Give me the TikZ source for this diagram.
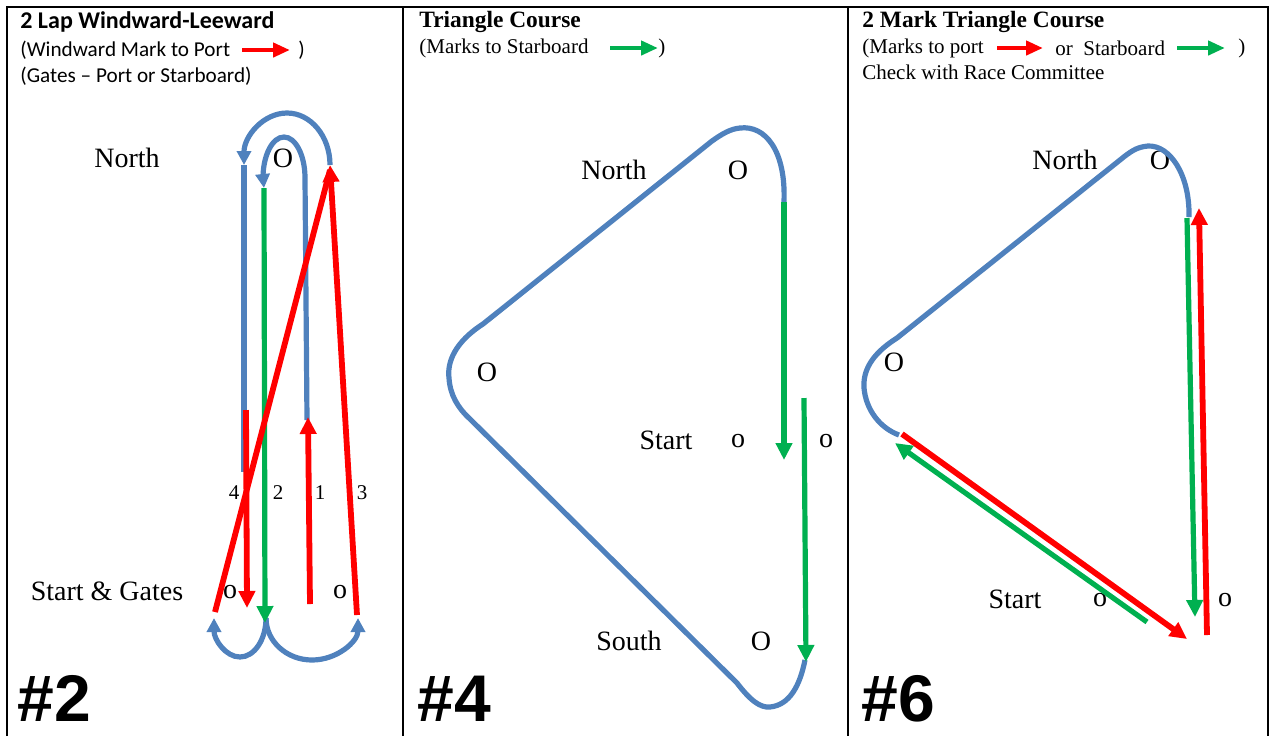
\documentclass[tikz,border=0pt]{standalone}
\usepackage{fontspec}
\setmainfont{Liberation Serif}
\newfontfamily\calfont{Carlito}
\newfontfamily\numfont{Liberation Sans}
\usetikzlibrary{arrows.meta}
\definecolor{courseblue}{HTML}{4F81BD}
\definecolor{portred}{HTML}{FF0000}
\definecolor{stbdgreen}{HTML}{00B050}
\tikzset{
  blueline/.style={draw=courseblue, line width=2.6pt},
  redline/.style={draw=portred, line width=2.9pt},
  greenline/.style={draw=stbdgreen, line width=2.6pt},
  bluetip/.style={-{Triangle[length=7pt,width=7pt]}},
  coursetip/.style={-{Triangle[length=8.5pt,width=8pt]}},
  keytip/.style={-{Triangle[length=8.5pt,width=7pt]}, line width=2.2pt},
  lbl/.style={font=\fontsize{14}{16}\selectfont, inner sep=0pt},
  legnum/.style={font=\fontsize{10.5}{12}\selectfont, inner sep=0pt},
  head/.style={anchor=west, inner sep=0pt, font=\fontsize{11.7}{14}\selectfont\bfseries},
  sub/.style={anchor=west, inner sep=0pt, font=\fontsize{10.5}{12}\selectfont},
  calsub/.style={sub, font=\calfont\fontsize{10.6}{12}\selectfont},
  bignum/.style={anchor=base west, inner sep=0pt, font=\numfont\fontsize{33}{36}\selectfont\bfseries}
}
\begin{document}
\begin{tikzpicture}[x=0.5pt, y=-0.5pt]
\useasboundingbox (0,0) rectangle (1270,736);
% frame
\draw[line width=1.2pt] (7,736) -- (7,7) -- (1268,7) -- (1268,736);
\draw[line width=1.2pt] (403,7) -- (403,736);
\draw[line width=1.2pt] (848,7) -- (848,736);

% ---- #2 windward-leeward
\node[head, font=\calfont\fontsize{12}{14}\selectfont\bfseries] (head2) at (20,22) {2 Lap Windward-Leeward};
\node[calsub] (sub2a) at (20,50) {(Windward Mark to Port};
\draw[portred, keytip] (242,50) -- (290,50);
\node[calsub] (sub2b) at (298,50) {)};
\node[calsub] (sub2c) at (20,76) {(Gates – Port or Starboard)};
\node[lbl] (north2) at (127,158) {North};
\node[lbl] (mark2) at (283,158) {O};
\node[lbl] (start2) at (107,591) {Start \& Gates};
\node[lbl] (gateL) at (230,592) {o};
\node[lbl] (gateR) at (340,592) {o};
\foreach \x/\n in {234/4, 278/2, 320/1, 362/3}
  \node[legnum] (leg\n) at (\x,493) {\n};
% blue loops
\draw[blueline, bluetip] (330,165) arc[start angle=0, end angle=-180, x radius=43, y radius=52];
\draw[blueline] (244,165) -- (244,472);
\draw[blueline, bluetip] (307,420) -- (305,178) arc[start angle=0, end angle=-180, x radius=21, y radius=41] -- (264,188);
\draw[blueline, bluetip] (266,618) arc[start angle=0, end angle=180, x radius=26, y radius=39];
\draw[blueline, bluetip] (266,618) arc[start angle=180, end angle=0, x radius=46, y radius=42];
% legs
\draw[greenline, coursetip] (264,188) -- (265,623);
\draw[redline, coursetip] (310,604) -- (308,417);
\draw[redline, coursetip] (357,615) -- (330,165);
\draw[redline] (215,612) -- (330,170);
\draw[redline, coursetip] (246,410) -- (247,608);
\node[bignum] (num2) at (17,721) {\#2};

% ---- #4 triangle
\node[head] (head4) at (419,22) {Triangle Course};
\node[sub] (sub4a) at (419,48) {(Marks to Starboard};
\draw[stbdgreen, keytip] (610,48) -- (658,48);
\node[sub] (sub4b) at (658,48) {)};
\node[lbl] (north4) at (614,170) {North};
\node[lbl] (markN4) at (738,170) {O};
\node[lbl] (markW4) at (487,372) {O};
\node[lbl] (start4) at (666,440) {Start};
\node[lbl] (pin4) at (738,441) {o};
\node[lbl] (boat4) at (826,441) {o};
\node[lbl] (south4) at (629,641) {South};
\node[lbl] (markS4) at (761,641) {O};
\draw[blueline] (784,202) .. controls (786,150) and (765,125) .. (740,128)
  .. controls (730,129) and (722,134) .. (712,141) -- (483,324)
  .. controls (455,342) and (447,362) .. (449,378)
  .. controls (450,395) and (458,408) .. (470,419) -- (737,683)
  .. controls (750,700) and (760,708) .. (770,707)
  .. controls (790,705) and (800,685) .. (805,660);
\draw[greenline, coursetip] (784,202) -- (784,460);
\draw[greenline, coursetip] (804,398) -- (806,662);
\node[bignum] (num4) at (417,721) {\#4};

% ---- #6 two mark triangle
\node[head] (head6) at (862,22) {2 Mark Triangle Course};
\node[sub] (sub6a) at (862,48) {(Marks to port};
\draw[portred, keytip] (997,48) -- (1043,48);
\node[sub] (sub6b) at (1055,48) {or\ \ Starboard};
\draw[stbdgreen, keytip] (1177,48) -- (1225,48);
\node[sub] (sub6c) at (1238,48) {)};
\node[sub] (sub6d) at (862,72) {Check with Race Committee};
\node[lbl] (north6) at (1065,160) {North};
\node[lbl] (markN6) at (1160,160) {O};
\node[lbl] (markW6) at (894,362) {O};
\node[lbl] (start6) at (1015,599) {Start};
\node[lbl] (pin6) at (1100,600) {o};
\node[lbl] (boat6) at (1225,600) {o};
\draw[blueline] (1189,217) .. controls (1190,175) and (1170,145) .. (1148,146)
  .. controls (1138,147) and (1133,150) .. (1125,156) -- (897,338)
  .. controls (870,355) and (863,372) .. (864,388)
  .. controls (866,410) and (880,428) .. (899,435);
\draw[greenline, coursetip] (1187,218) -- (1195,617);
\draw[redline, coursetip] (1207,635) -- (1199,208);
\draw[redline, coursetip] (902,434) -- (1187,639);
\draw[greenline, coursetip] (1147,622) -- (895,443);
\node[bignum] (num6) at (861,721) {\#6};
\end{tikzpicture}
\end{document}
